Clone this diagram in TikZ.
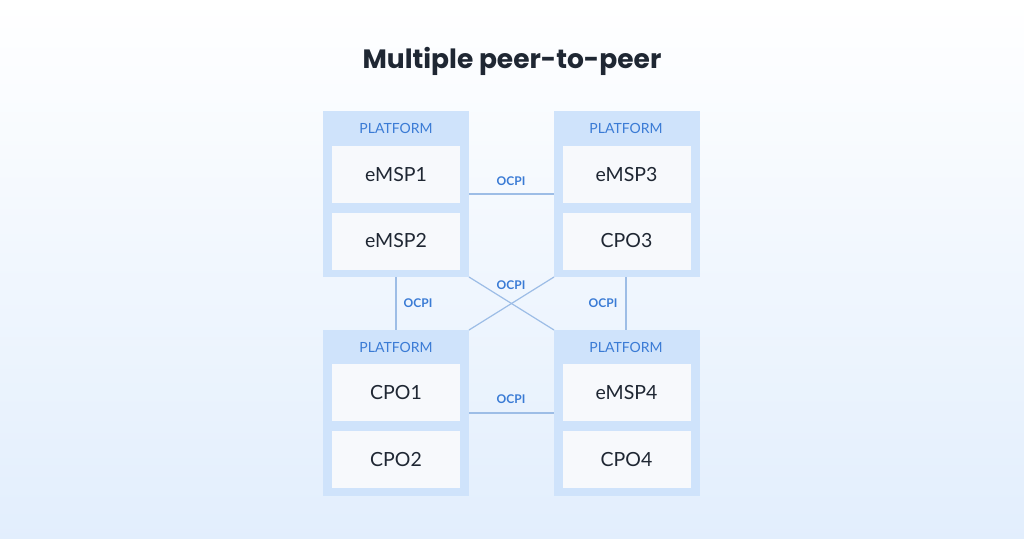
\documentclass[tikz,border=0pt]{standalone}
\usepackage{fontspec}
\setmainfont{Poppins}
\newfontfamily\labfont{Lato}
\begin{document}
\begin{tikzpicture}[x=1pt,y=-1pt,
  plat/.style={fill=platc,draw=none},
  inner/.style={fill=innc,draw=none,minimum width=128pt,minimum height=57pt,font=\labfont\fontsize{19.5}{22}\selectfont,text=textc},
  plabel/.style={text=bluec,font=\labfont\fontsize{14}{16}\selectfont},
  conn/.style={draw=linec,line width=1.2pt},
  ocpi/.style={text=bluec,font=\labfont\bfseries\fontsize{12}{14}\selectfont,fill=none}]
\definecolor{platc}{HTML}{CFE3FB}
\definecolor{innc}{HTML}{F7F9FC}
\definecolor{bluec}{HTML}{3A7BD5}
\definecolor{linec}{HTML}{9DBDE6}
\definecolor{textc}{HTML}{1F2733}
\shade[top color=white,bottom color=platc!60] (0,0) rectangle (1024,538);
\useasboundingbox (0,0) rectangle (1024,538);
\node[text=textc,font=\bfseries\fontsize{26.5}{30}\selectfont] (title) at (512,61) {Multiple peer-to-peer};
% platforms
\foreach \n/\x/\y in {tl/323/111,tr/554/111,bl/323/330,br/554/330}{
  \fill[plat] (\x,\y) rectangle ++(146,166);
  \coordinate (\n) at (\x,\y);
}
\node[plabel] (ltl) at (396,128) {PLATFORM};
\node[plabel] (ltr) at (626,128) {PLATFORM};
\node[plabel] (lbl) at (396,347) {PLATFORM};
\node[plabel] (lbr) at (626,347) {PLATFORM};
\node[inner] (e1) at (396,174.5) {eMSP1};
\node[inner] (e2) at (396,241) {eMSP2};
\node[inner] (e3) at (626.5,174.5) {eMSP3};
\node[inner] (c3) at (626.5,241) {CPO3};
\node[inner] (c1) at (396,392.5) {CPO1};
\node[inner] (c2) at (396,459.5) {CPO2};
\node[inner] (e4) at (626.5,392.5) {eMSP4};
\node[inner] (c4) at (626.5,459.5) {CPO4};
% connectors
\coordinate (a1) at (469,194); \coordinate (a2) at (554,194);
\coordinate (b1) at (469,413); \coordinate (b2) at (554,413);
\coordinate (v1) at (396,277); \coordinate (v2) at (396,330);
\coordinate (w1) at (626,277); \coordinate (w2) at (626,330);
\coordinate (x1) at (469,277); \coordinate (x2) at (554,330);
\coordinate (y1) at (554,277); \coordinate (y2) at (469,330);
\draw[conn] (a1) -- (a2);
\draw[conn] (b1) -- (b2);
\draw[conn] (v1) -- (v2);
\draw[conn] (w1) -- (w2);
\draw[conn] (x1) -- (x2);
\draw[conn] (y1) -- (y2);
\node[ocpi] (o1) at (511,181) {OCPI};
\node[ocpi] (o2) at (511,399) {OCPI};
\node[ocpi] (o3) at (418,303) {OCPI};
\node[ocpi] (o4) at (603,303) {OCPI};
\node[ocpi] (o5) at (511,285) {OCPI};
\end{tikzpicture}
\end{document}
